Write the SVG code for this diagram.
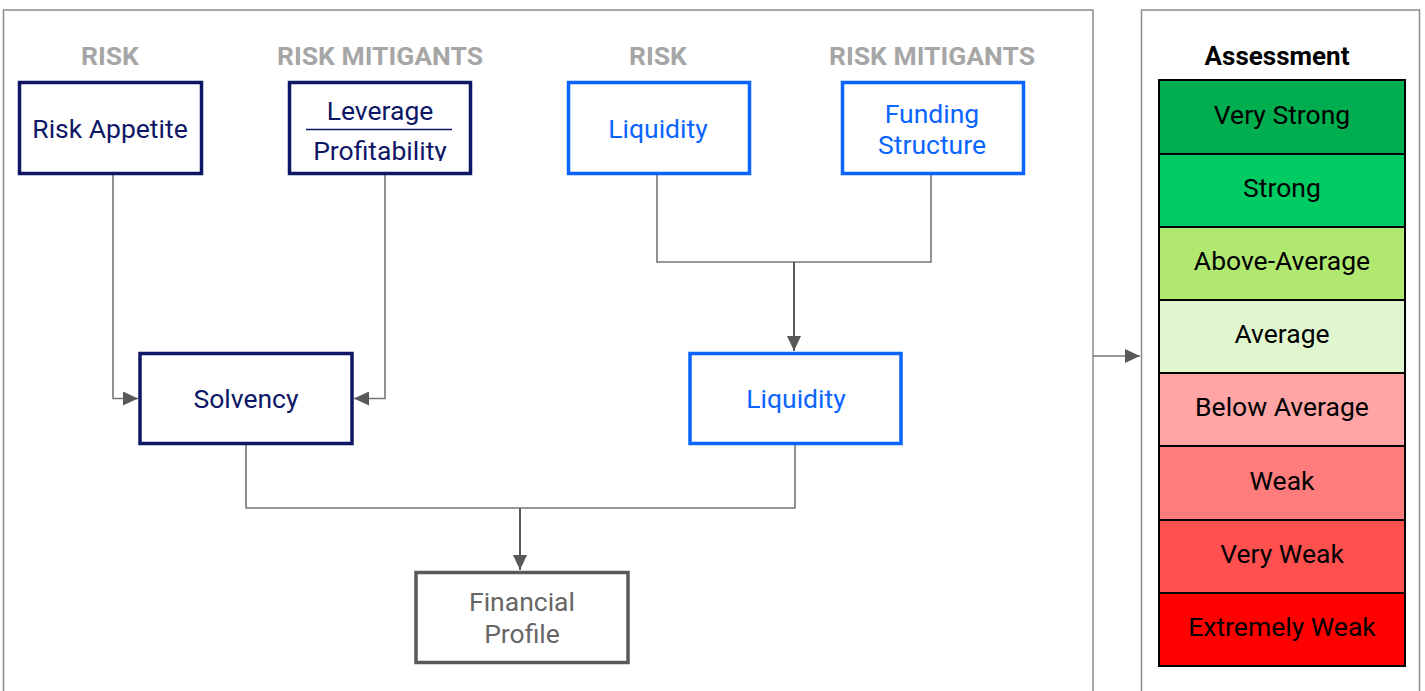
<svg xmlns="http://www.w3.org/2000/svg" width="1425" height="691" viewBox="0 0 1425 691">
<style>
text{font-family:Roboto,"Liberation Sans",Arial,sans-serif;text-anchor:middle}
.hdr{font-size:26.5px;font-weight:bold;fill:#a6a6a6}
.navy{fill:#fff;stroke:#0d1766;stroke-width:3.5}
.blue{fill:#fff;stroke:#0a64ff;stroke-width:3.5}
.gray{fill:#fff;stroke:#595959;stroke-width:3.5}
.tn{font-size:26.5px;fill:#0d1766}
.tb{font-size:26.5px;fill:#0a64ff}
.tg{font-size:26.5px;fill:#666}
.frame{fill:none;stroke:#8c8c8c;stroke-width:1.5}
.conn{fill:none;stroke:#777;stroke-width:1.6}
.connd{fill:none;stroke:#595959;stroke-width:2}
.row{stroke:#000;stroke-width:2}
.ts{font-size:26.5px;fill:#000}
</style>
<defs>
<marker id="ah" markerUnits="userSpaceOnUse" markerWidth="16" markerHeight="14" refX="15" refY="7" orient="auto">
<path d="M0,0 L15,7 L0,14 Z" fill="#595959"/>
</marker>
<clipPath id="clipLev"><rect x="290" y="84" width="179" height="77"/></clipPath>
</defs>

<g id="frames">
<rect class="frame" x="3.5" y="10" width="1089.5" height="700"/>
<rect class="frame" x="1141.5" y="10" width="278" height="700"/>
</g>

<g id="headers">
<text class="hdr" x="110" y="65">RISK</text>
<text class="hdr" x="380" y="65">RISK MITIGANTS</text>
<text class="hdr" x="658" y="65">RISK</text>
<text class="hdr" x="932" y="65">RISK MITIGANTS</text>
</g>

<g id="connectors">
<path class="conn" d="M113,174 V398.5 H138" marker-end="url(#ah)"/>
<path class="conn" d="M385,174 V398.5 H354" marker-end="url(#ah)"/>
<path class="conn" d="M657,174 V262 H931 V174"/>
<path class="connd" d="M794,262 V351" marker-end="url(#ah)"/>
<path class="conn" d="M246,444 V508 H795 V444"/>
<path class="connd" d="M520,508 V570" marker-end="url(#ah)"/>
<path class="conn" d="M1093,356 H1140" marker-end="url(#ah)"/>
</g>

<g id="node-risk-appetite">
<rect class="navy" x="19.5" y="82.5" width="182" height="91"/>
<text class="tn" x="110" y="138">Risk Appetite</text>
</g>

<g id="node-leverage">
<rect class="navy" x="289.5" y="82.5" width="181" height="91"/>
<text class="tn" x="380" y="120">Leverage</text>
<line x1="306" y1="129.5" x2="452" y2="129.5" stroke="#0d1766" stroke-width="1.5"/>
<g clip-path="url(#clipLev)"><text class="tn" x="380" y="160">Profitability</text></g>
</g>

<g id="node-liquidity-risk">
<rect class="blue" x="568.5" y="82.5" width="181" height="91"/>
<text class="tb" x="658" y="138">Liquidity</text>
</g>

<g id="node-funding">
<rect class="blue" x="842.5" y="82.5" width="181" height="91"/>
<text class="tb" x="932" y="123">Funding</text>
<text class="tb" x="932" y="154">Structure</text>
</g>

<g id="node-solvency">
<rect class="navy" x="140" y="353.5" width="212" height="90"/>
<text class="tn" x="246" y="408">Solvency</text>
</g>

<g id="node-liquidity">
<rect class="blue" x="690" y="353.5" width="211" height="90"/>
<text class="tb" x="796" y="408">Liquidity</text>
</g>

<g id="node-financial-profile">
<rect class="gray" x="416" y="572.5" width="212" height="90"/>
<text class="tg" x="522" y="611">Financial</text>
<text class="tg" x="522" y="643">Profile</text>
</g>

<g id="assessment">
<text x="1277" y="65" style="font-size:26px;font-weight:bold;fill:#000">Assessment</text>
<rect class="row" x="1159" y="80" width="246" height="74" fill="#00ad4f"/>
<rect class="row" x="1159" y="154" width="246" height="73" fill="#00cc63"/>
<rect class="row" x="1159" y="227" width="246" height="73" fill="#b0e870"/>
<rect class="row" x="1159" y="300" width="246" height="73" fill="#e0f6cf"/>
<rect class="row" x="1159" y="373" width="246" height="73" fill="#ffa5a5"/>
<rect class="row" x="1159" y="446" width="246" height="74" fill="#ff7c7c"/>
<rect class="row" x="1159" y="520" width="246" height="73" fill="#ff5050"/>
<rect class="row" x="1159" y="593" width="246" height="73" fill="#ff0000"/>
<text class="ts" x="1282" y="124">Very Strong</text>
<text class="ts" x="1282" y="197">Strong</text>
<text class="ts" x="1282" y="270">Above-Average</text>
<text class="ts" x="1282" y="343">Average</text>
<text class="ts" x="1282" y="416">Below Average</text>
<text class="ts" x="1282" y="490">Weak</text>
<text class="ts" x="1282" y="563">Very Weak</text>
<text class="ts" x="1282" y="636">Extremely Weak</text>
</g>
</svg>
